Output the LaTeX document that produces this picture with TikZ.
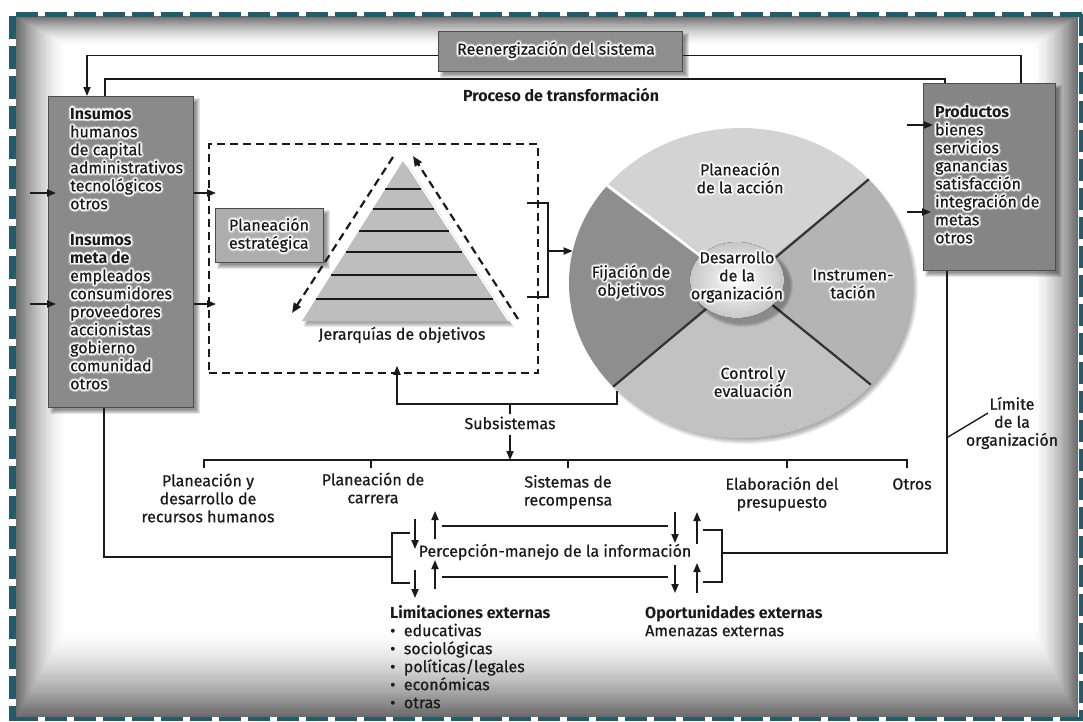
\documentclass[tikz,border=0pt]{standalone}
\usepackage{fontspec}
\setmainfont{Fira Sans}[UprightFeatures={FakeBold=0.6}]
\usetikzlibrary{arrows.meta,calc,shapes.geometric}

\definecolor{frameteal}{RGB}{36,90,105}
\definecolor{insgray}{HTML}{8A8A8A}
\definecolor{prodgray}{HTML}{858585}
\definecolor{reengray}{HTML}{8E8E8E}
\definecolor{pegray}{HTML}{ADADAD}
\definecolor{pyrgray}{HTML}{BEBEBE}
\definecolor{pietop}{HTML}{D3D3D3}
\definecolor{pieright}{HTML}{B4B4B4}
\definecolor{piebottom}{HTML}{C2C2C2}
\definecolor{pieleft}{HTML}{8E8E8E}
\definecolor{ink}{HTML}{1A1A1A}

\tikzset{
  conn/.style={draw=ink, line width=1.8pt},
  arr/.style={conn, -{Triangle[length=9pt,width=7pt]}},
  dasharr/.style={draw=ink, line width=2.2pt, dash pattern=on 8pt off 5pt, -{Triangle[length=10pt,width=8pt]}},
  txt/.style={inner sep=0pt, text=ink, align=center},
  ltxt/.style={inner sep=0pt, text=ink, align=left},
  grayrect/.style={draw=black!70, line width=0.8pt, rectangle, inner sep=0pt, anchor=north west},
}

% text with a soft white halo
\newcommand\glowtext[4]{%
  \foreach \ga in {0,45,...,315}{%
    \node[#1, text=white, text opacity=0.35, shift={(\ga:2.6pt)}] (#2-o\ga) at (#3) {#4};
    \node[#1, text=white, text opacity=0.9, shift={(\ga:1.3pt)}] (#2-i\ga) at (#3) {#4};}%
  \node[#1] (#2) at (#3) {#4};}

% blurred drop shadow of a rectangle
\newcommand\boxshadow[4]{%
  \foreach \k in {0,...,4}{%
    \fill[black,opacity=0.1] ({#1+6-\k},{#2+6-\k}) rectangle ({#3+3+\k},{#4+3+\k});}}

\begin{document}
\begin{tikzpicture}[x=1pt,y=-1pt,font=\fontsize{16}{18}\selectfont]
\useasboundingbox (0,0) rectangle (1083,721);
\fill[white] (0,0) rectangle (1083,721);

% vignette of the panel
\foreach \i in {0,...,39}{%
  \pgfmathsetmacro\vt{\i/40}%
  \pgfmathsetmacro\vc{58*(1-\vt)^1.6}%
  \fill[black!\vc!white] ({16+50*\vt},{16+30*\vt}) rectangle ({1078-46*\vt},{717-88*\vt});}
\fill[white] (66,46) rectangle (1032,629);

% dashed frame
\draw[frameteal, line width=5pt, dash pattern=on 22pt off 7pt] (16,14) -- (1083,14);
\draw[frameteal, line width=7pt, dash pattern=on 23pt off 7pt] (12,16) -- (12,721);
\draw[frameteal, line width=4pt, dash pattern=on 22pt off 7pt] (16,719) -- (1083,719);
\draw[frameteal, line width=5pt, dash pattern=on 22pt off 7pt] (1081,14) -- (1081,721);

% ---------- boxes ----------
\boxshadow{438}{31}{682}{71}
\node[grayrect, fill=reengray, minimum width=244pt, minimum height=40pt] (reen) at (438,31) {};
\glowtext{txt}{reent}{556,50}{Reenergización del sistema}

\boxshadow{48}{96}{193}{407}
\node[grayrect, fill=insgray, minimum width=145pt, minimum height=311pt] (ins) at (48,96) {};
\glowtext{ltxt, anchor=north west}{inst}{70,108}{{\bfseries Insumos}\\humanos\\de capital\\administrativos\\tecnológicos\\otros\\[18pt]{\bfseries Insumos}\\{\bfseries meta de}\\empleados\\consumidores\\proveedores\\accionistas\\gobierno\\comunidad\\otros}

\boxshadow{923}{83}{1055}{270}
\node[grayrect, fill=prodgray, minimum width=132pt, minimum height=187pt] (prod) at (923,83) {};
\glowtext{ltxt, anchor=north west}{prodt}{935,105}{{\bfseries Productos}\\bienes\\servicios\\ganancias\\satisfacción\\integración de\\metas\\otros}

\node[txt, font=\fontsize{16}{18}\selectfont\bfseries] (proc) at (561,95) {Proceso de transformación};

% ---------- strategic planning area ----------
\node[draw=ink, line width=1.8pt, dash pattern=on 8pt off 5pt, rectangle, inner sep=0pt,
      minimum width=329pt, minimum height=229pt, anchor=north west] (dbox) at (208,143) {};

\boxshadow{215}{208}{323}{262}
\node[grayrect, fill=pegray, minimum width=108pt, minimum height=54pt] (pe) at (215,208) {};
\glowtext{ltxt}{pet}{269,235}{Planeación\\estratégica}

% pyramid of objectives
\coordinate (apx) at (403,161);
\coordinate (pbl) at (302,321);
\coordinate (pbr) at (507,321);
\foreach \k in {0,...,4}{\fill[black,opacity=0.08] ($(apx)+(2+\k,4)$) -- ($(pbl)+(2,2+\k)$) -- ($(pbr)+(3+\k,2+\k)$) -- cycle;}
\fill[pyrgray] (apx) -- (pbl) -- (pbr) -- cycle;
\draw[white, line width=1.5pt] ($(apx)+(1.5,0)$) -- ($(pbr)+(1.5,0)$);
\foreach \t in {0.175,0.3,0.4375,0.569,0.7125,0.8625}{\draw[ink, line width=1.6pt] ($(apx)!\t!(pbl)$) -- ($(apx)!\t!(pbr)$);}
\draw[dasharr] (393,157) -- (292,313);
\draw[dasharr] (518,319) -- (413,156);
\node[txt] (jer) at (402,335) {Jerarquías de objetivos};

% ---------- development wheel ----------
\node[ellipse, minimum width=344pt, minimum height=310pt, inner sep=0pt] (pie) at (741,283) {};
\begin{scope}[shift={(741pt,-283pt)}]
  \foreach \k in {0,...,5}{\fill[black,opacity=0.06] (4pt,-5pt) ellipse [x radius=168pt+\k pt, y radius=151pt+\k pt];}
  \fill[pietop] (0pt,0pt) -- (42:172pt and 155pt) arc[start angle=42,end angle=141,x radius=172pt,y radius=155pt] -- cycle;
  \fill[pieleft] (0pt,0pt) -- (141:172pt and 155pt) arc[start angle=141,end angle=222,x radius=172pt,y radius=155pt] -- cycle;
  \fill[piebottom] (0pt,0pt) -- (222:172pt and 155pt) arc[start angle=222,end angle=319,x radius=172pt,y radius=155pt] -- cycle;
  \fill[pieright] (0pt,0pt) -- (319:172pt and 155pt) arc[start angle=319,end angle=402,x radius=172pt,y radius=155pt] -- cycle;
  \draw[white, line width=3pt] (141:40pt and 32pt) -- (141:172pt and 155pt);
  \foreach \a in {42,222,319}{\draw[black!80, line width=2.2pt] (\a:40pt and 32pt) -- (\a:172pt and 155pt);}
  \foreach \k in {0,...,3}{\fill[black,opacity=0.08] (2pt,-3pt) ellipse [x radius=47pt+\k pt, y radius=38pt+\k pt];}
  \fill[inner color=white, outer color=black!22] (-4pt,3pt) ellipse [x radius=47pt, y radius=38pt];
\end{scope}
\glowtext{txt}{pa}{740,178}{Planeación\\de la acción}
\glowtext{txt}{fo}{631,282}{Fijación de\\objetivos}
\glowtext{txt}{ins2}{853,284}{Instrumen-\\tación}
\glowtext{txt}{ce}{753,382}{Control y\\evaluación}
\glowtext{txt}{dlo}{737,277}{Desarrollo\\de la\\organización}

% ---------- connectors of the system ----------
\draw[arr] ([yshift=-4pt]reen.west) -| ($(ins.north west)+(39,0)$);
\draw[conn] ([yshift=-4pt]reen.east) -| ($(prod.north west)+(98,0)$);
\coordinate (procline) at (500,79);
\draw[conn] ($(ins.north west)+(57,0)$) |- (procline) -| ($(prod.north west)+(22,0)$);

\coordinate (inA) at (30,193);
\coordinate (inB) at (30,304);
\draw[arr] (inA) -- (inA -| ins.west) -- ++(8,0);
\draw[arr] (inB) -- (inB -| ins.west) -- ++(8,0);
\draw[arr] (inA -| ins.east) -- ($(inA -| dbox.west)+(8,0)$);
\draw[arr] (inB -| ins.east) -- ($(inB -| dbox.west)+(8,0)$);

\coordinate (outA) at (907,125);
\coordinate (outB) at (907,212);
\draw[arr] (outA) -- ($(outA -| prod.west)+(10,0)$);
\draw[arr] (outB) -- ($(outB -| prod.west)+(8,0)$);

% bracket joining the planning area with the wheel
\coordinate (bt) at (548,203);
\coordinate (bb) at (548,297);
\coordinate (bm) at (548,251);
\draw[conn] ($(bt)+(-21,0)$) -- (bt) -- (bb) -- ($(bb)+(-21,0)$);
\draw[arr] (bm) -- (bm -| pie.169);

% feedback into the planning area and the subsystems
\coordinate (fbl) at (510,404);
\draw[arr] (pie.221) |- (fbl) -| ($(dbox.south west)+(189,-8)$);
\node[txt] (sub) at (510,423) {Subsistemas};
\draw[conn] (fbl) -- ([yshift=2pt]sub.north);
\coordinate (barmid) at (510,460);
\draw[arr] ([yshift=-5pt]sub.south) -- (barmid);
\draw[conn] (204,468) -- (204,460) -- (907,460) -- (907,468);
\foreach \tx in {371,568,787}{\draw[conn] (\tx,460) -- (\tx,468);}

\node[txt] (s1) at (208,498) {Planeación y\\desarrollo de\\recursos humanos};
\node[txt] (s2) at (373,488) {Planeación de\\carrera};
\node[txt] (s3) at (568,492) {Sistemas de\\recompensa};
\node[txt] (s4) at (782,494) {Elaboración del\\presupuesto};
\node[txt] (s5) at (912,484) {Otros};

% organisation boundary
\node[txt] (lim) at (1012,423) {Límite\\de la\\organización};
\coordinate (lead) at (988,413);
\coordinate (lbm) at (392,557);
\coordinate (rbm) at (722,553);
\draw[conn] ($(ins.south west)+(56,0)$) |- (lbm);
\draw[conn] (rbm) -| ($(prod.south west)+(24,0)$);
\draw[ink, line width=1.4pt] (lead) -- (948,437);

% information handling
\node[txt] (perc) at (555,552) {Percepción-manejo de la información};
\draw[conn] (410,533) -- (392,533) -- (392,583) -- (410,583);
\draw[conn] (703,530) -- (722,530) -- (722,582) -- (703,582);
\draw[arr] (415,519) -- (415,549);
\draw[arr] (435,539) -- (435,511);
\draw[conn] (442,526) -- (668,526);
\draw[arr] (675,512) -- (675,543);
\draw[arr] (697,544) -- (697,512);
\draw[arr] (415,570) -- (415,598);
\draw[arr] (435,589) -- (435,560);
\draw[conn] (442,577) -- (668,577);
\draw[arr] (675,565) -- (675,593);
\draw[arr] (697,593) -- (697,563);

\node[ltxt, anchor=north west] (lext) at (390,605) {{\bfseries Limitaciones externas}\\\textbullet\ \ educativas\\\textbullet\ \ sociológicas\\\textbullet\ \ políticas/legales\\\textbullet\ \ económicas\\\textbullet\ \ otras};
\node[ltxt, anchor=north west] (oext) at (645,605) {{\bfseries Oportunidades externas}\\Amenazas externas};
\end{tikzpicture}
\end{document}
